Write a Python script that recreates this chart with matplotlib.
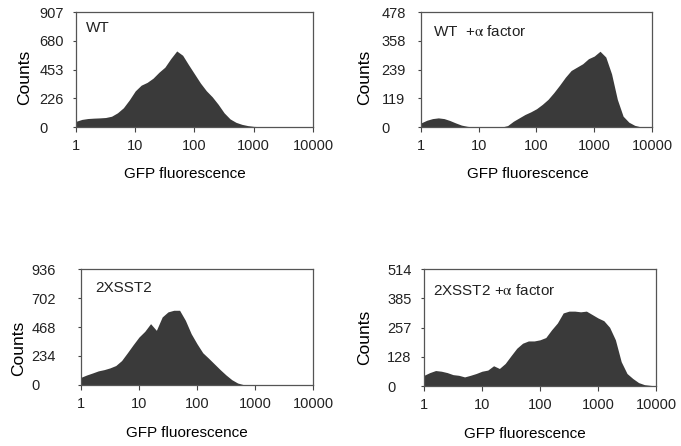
"""Flow cytometry GFP histograms: WT and 2XSST2, with and without alpha factor."""
import numpy as np
import matplotlib
matplotlib.use("Agg")
import matplotlib.pyplot as plt

# channel grid, log10(GFP) in 0.1-decade steps from 1 to 10000
log_gfp = np.round(np.arange(0.0, 4.01, 0.1), 2)

wt_counts = [45, 60, 67, 70, 72, 75, 85, 112, 152, 214, 285, 330, 352, 385, 432,
             472, 540, 600, 566, 491, 419, 347, 286, 238, 179, 112, 64, 37, 21, 11,
             5, 3, 1, 0, 0, 0, 0, 0, 0, 0, 0]
wt_alpha_counts = [17, 28, 35, 38, 35, 27, 17, 8, 3, 0, 0, 0, 0, 0, 0,
                   6, 24, 38, 52, 63, 76, 94, 115, 143, 174, 207, 235, 249, 263, 284,
                   295, 315, 291, 221, 115, 45, 20, 7, 1, 0, 0]
sst2_counts = [62, 81, 97, 114, 124, 138, 157, 197, 260, 325, 387, 433, 495, 441, 549,
               590, 603, 603, 522, 414, 333, 260, 216, 170, 124, 81, 43, 16, 3, 0,
               0, 0, 0, 0, 0, 0, 0, 0, 0, 0, 0]
sst2_alpha_counts = [47, 59, 68, 65, 59, 50, 47, 40, 47, 55, 65, 70, 89, 77, 99,
                     133, 166, 188, 198, 198, 203, 213, 247, 277, 321, 329, 329, 326, 329, 314,
                     299, 287, 258, 203, 107, 55, 33, 15, 6, 3, 0]

panel_names = ["WT  +$\\mathrm{\\alpha}$ factor", "2XSST2", "2XSST2 +$\\mathrm{\\alpha}$ factor"]
panel_names = ["WT"] + panel_names
panel_counts = [wt_counts, wt_alpha_counts, sst2_counts, sst2_alpha_counts]
panel_ymax = [907, 478, 936, 514]
panel_yticks = [[0, 226, 453, 680, 907], [0, 119, 239, 358, 478],
                [0, 234, 468, 702, 936], [0, 128, 257, 385, 514]]
x_ticks = [1, 10, 100, 1000, 10000]

plt.rcParams.update({"font.family": ["Liberation Sans", "DejaVu Sans"],
                     "mathtext.fontset": "stix", "text.color": "#222222",
                     "xtick.color": "#444444", "ytick.color": "#444444",
                     "xtick.labelcolor": "#222222", "ytick.labelcolor": "#222222"})

fig = plt.figure(figsize=(6.81, 4.46), dpi=100)
rects = [[0.1116, 0.7152, 0.348, 0.2578], [0.6182, 0.7152, 0.3392, 0.2578],
         [0.1189, 0.1368, 0.3407, 0.2600], [0.6226, 0.1345, 0.3407, 0.2623]]
ytick_pad = [24, 26, 33, 24]
ylab_x = [-0.215, -0.242, -0.27, -0.254]
ylab_y = [0.43, 0.43, 0.32, 0.42]
xlab_x = [0.46, 0.463, 0.457, 0.435]
name_pos = [(0.04, 0.86), (0.05, 0.83), (0.06, 0.84), (0.04, 0.82)]

gfp = 10 ** log_gfp
for i in range(4):
    ax = fig.add_axes(rects[i])
    ax.fill_between(gfp, panel_counts[i], 0, color="#3a3a3a", lw=0)
    ax.set_xscale("log")
    ax.set_xlim(1, 10000)
    ax.set_ylim(0, panel_ymax[i])
    ax.set_xticks(x_ticks)
    ax.set_xticklabels([str(t) for t in x_ticks])
    ax.minorticks_off()
    ax.set_yticks(panel_yticks[i])
    ax.set_yticklabels([str(t) for t in panel_yticks[i]])
    for lab in ax.get_yticklabels():
        lab.set_horizontalalignment("left")
    ax.tick_params(axis="x", length=3.5, width=0.8, pad=5, labelsize=10.5)
    ax.tick_params(axis="y", length=2.5, width=0.8, pad=ytick_pad[i], labelsize=10.5)
    for sp in ax.spines.values():
        sp.set_color("#555555")
        sp.set_linewidth(0.9)
    ax.set_xlabel("GFP fluorescence", fontsize=11, va="center")
    ax.xaxis.set_label_coords(xlab_x[i], -0.41)
    ax.set_ylabel("Counts", fontsize=12.5, va="center")
    ax.yaxis.set_label_coords(ylab_x[i], ylab_y[i])
    ax.text(name_pos[i][0], name_pos[i][1], panel_names[i], transform=ax.transAxes,
            fontsize=11, ha="left", va="center")

fig.savefig("out.png", dpi=100)
